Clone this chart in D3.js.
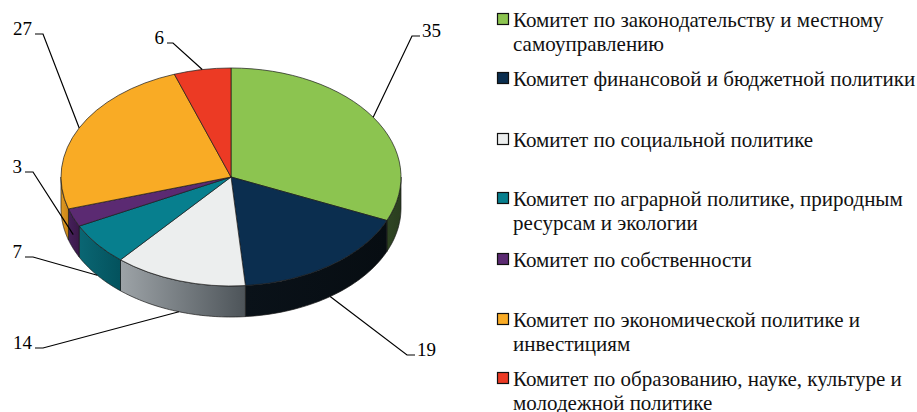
<!DOCTYPE html>
<head>
  <meta charset="utf-8">
  <title>Комитеты</title>
  <style>
    body { margin: 0; background: #fff; }
  </style>
  <script src="https://cdn.jsdelivr.net/npm/d3@7/dist/d3.min.js"></script>
</head>
<body>
<script>
  // data
  var categories = [
    "Комитет по законодательству и местному самоуправлению",
    "Комитет финансовой и бюджетной политики",
    "Комитет по социальной политике",
    "Комитет по аграрной политике, природным ресурсам и экологии",
    "Комитет по собственности",
    "Комитет по экономической политике и инвестициям",
    "Комитет по образованию, науке, культуре и молодежной политике"
  ];
  var values = [35, 19, 14, 7, 3, 27, 6];
  // legend line breaks as in the original
  var legendLines = [
    ["Комитет по законодательству и местному", "самоуправлению"],
    ["Комитет финансовой и бюджетной политики"],
    ["Комитет по социальной политике"],
    ["Комитет по аграрной политике, природным", "ресурсам и экологии"],
    ["Комитет по собственности"],
    ["Комитет по экономической политике и", "инвестициям"],
    ["Комитет по образованию, науке, культуре и", "молодежной политике"]
  ];
  var topColors  = ["#8cc450", "#0b2e4f", "#eceeee", "#077f8e", "#5b2a72", "#f9ab25", "#ec3a24"];
  var sideColors = [["#2f4523", "#2a3d1f"], ["#0a1219", "#070d12"], ["#9da3a7", "#4d5459"],
                    ["#0a6673", "#03525d"], ["#45205a", "#3a1849"], ["#e09a22", "#c98519"],
                    ["#b02a1a", "#9a2416"]];

  // layout
  var width = 917, height = 412;
  var cx = 231, cy = 177, rx = 170, ry = 109, depth = 31;
  var serif = "'Liberation Serif', 'Times New Roman', serif";
  // elbow of each leader line and the signed length of its short horizontal tail
  var labelElbow = [[412, 36, 8], [407, 355, 8], [43, 348, -8],
                    [33, 257, -8], [33, 172, -8], [43, 34, -8], [173, 43, -6]];
  var anchorDepth = [0, 1, 1, 1, 0.55, 0, 0];

  var svg = d3.select("body").append("svg")
    .attr("width", width).attr("height", height)
    .style("display", "block");

  var pie = d3.pie().sort(null).value(function (d) { return d; });
  var arcs = pie(values);

  var defs = svg.append("defs");
  arcs.forEach(function (a, i) {
    var g = defs.append("linearGradient").attr("id", "side" + i)
      .attr("x1", "0%").attr("x2", "100%").attr("y1", "0%").attr("y2", "0%");
    g.append("stop").attr("offset", "0%").attr("stop-color", sideColors[i][0]);
    g.append("stop").attr("offset", "100%").attr("stop-color", sideColors[i][1]);
  });

  function ex(a) { return cx + rx * Math.sin(a); }
  function ey(a) { return cy - ry * Math.cos(a); }

  var line = d3.line();

  // side walls (front half only)
  var sides = svg.append("g");
  arcs.forEach(function (a, i) {
    var a0 = Math.max(a.startAngle, Math.PI / 2);
    var a1 = Math.min(a.endAngle, 3 * Math.PI / 2);
    if (a1 <= a0) return;
    var n = 40, pts = [];
    for (var k = 0; k <= n; k++) {
      var t = a0 + (a1 - a0) * k / n;
      pts.push([ex(t), ey(t)]);
    }
    for (var k = n; k >= 0; k--) {
      var t = a0 + (a1 - a0) * k / n;
      pts.push([ex(t), ey(t) + depth]);
    }
    sides.append("path")
      .attr("d", line(pts) + "Z")
      .attr("fill", "url(#side" + i + ")")
      .attr("stroke", "#1a1a1a")
      .attr("stroke-width", 0.7)
      .attr("stroke-linejoin", "round");
  });

  // top faces
  var arc = d3.arc().innerRadius(0).outerRadius(rx);
  svg.append("g")
    .attr("transform", "translate(" + cx + "," + cy + ") scale(1," + (ry / rx) + ")")
    .selectAll("path")
    .data(arcs)
    .enter()
    .append("path")
      .attr("d", arc)
      .attr("fill", function (d, i) { return topColors[i]; })
      .attr("stroke", "#1a1a1a")
      .attr("stroke-width", 0.7)
      .attr("vector-effect", "non-scaling-stroke")
      .attr("stroke-linejoin", "round");

  // leader lines and value labels
  var labels = svg.append("g");
  arcs.forEach(function (a, i) {
    var mid = (a.startAngle + a.endAngle) / 2;
    var px = ex(mid), py = ey(mid) + depth * anchorDepth[i];
    var e = labelElbow[i];
    var right = e[2] > 0;
    labels.append("path")
      .attr("d", line([[px, py], [e[0], e[1]], [e[0] + e[2], e[1]]]))
      .attr("fill", "none")
      .attr("stroke", "#000")
      .attr("stroke-width", 1.2);
    labels.append("text")
      .attr("x", right ? e[0] + e[2] + 2 : e[0] + e[2] - 3)
      .attr("y", e[1] + 1)
      .attr("text-anchor", right ? "start" : "end")
      .style("font-family", serif)
      .style("font-size", "19px")
      .text(values[i]);
  });

  // legend
  var legendTop = [27, 86, 147, 206, 267, 327, 386];
  var legend = svg.append("g");
  categories.forEach(function (c, i) {
    var y = legendTop[i];
    legend.append("rect")
      .attr("x", 497.5).attr("y", y - 13.5)
      .attr("width", 11).attr("height", 11)
      .attr("fill", topColors[i])
      .attr("stroke", "#111").attr("stroke-width", 1.2);
    var t = legend.append("text")
      .attr("x", 513).attr("y", y)
      .style("font-family", serif)
      .style("font-size", "21px")
      .attr("fill", "#111");
    legendLines[i].forEach(function (l, j) {
      t.append("tspan").attr("x", 513).attr("dy", j === 0 ? 0 : 23.5).text(l);
    });
  });
</script>
</body>
